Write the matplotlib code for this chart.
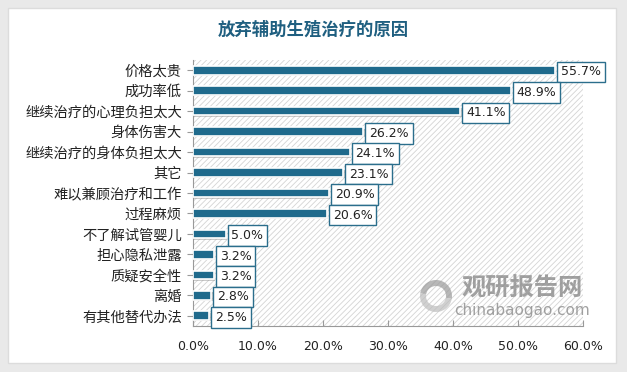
import matplotlib.pyplot as plt
from matplotlib.patches import Rectangle, Wedge
import matplotlib.patheffects as pe

plt.rcParams['font.family'] = ['Noto Sans CJK SC', 'DejaVu Sans']
plt.rcParams['hatch.linewidth'] = 0.6

# data (top to bottom as shown)
reasons = ['价格太贵', '成功率低', '继续治疗的心理负担太大', '身体伤害大',
           '继续治疗的身体负担太大', '其它', '难以兼顾治疗和工作', '过程麻烦',
           '不了解试管婴儿', '担心隐私泄露', '质疑安全性', '离婚', '有其他替代办法']
shares = [55.7, 48.9, 41.1, 26.2, 24.1, 23.1, 20.9, 20.6, 5.0, 3.2, 3.2, 2.8, 2.5]
xticks = [0, 10, 20, 30, 40, 50, 60]

bar_color = '#1f6a8c'
edge_color = '#2b6e8c'

fig = plt.figure(figsize=(6.27, 3.72), dpi=100)
fig.patch.set_facecolor('#e9e9e9')

# white card behind everything
bg = fig.add_axes([0, 0, 1, 1], zorder=-10)
bg.set_xlim(0, 627)
bg.set_ylim(372, 0)
bg.axis('off')
bg.add_patch(Rectangle((8, 8), 608, 355, facecolor='white', edgecolor='#dcdcdc', lw=1))

ax = fig.add_axes([193 / 627, 1 - 326 / 372, 390 / 627, 266 / 372])
ax.set_facecolor('none')
ax.add_patch(Rectangle((0, 0), 1, 1, transform=ax.transAxes, facecolor='white',
                       edgecolor='#d4d4d4', hatch='//////', lw=0, zorder=0))

y = list(range(len(reasons)))
ax.barh(y, shares, height=0.42, color=bar_color, edgecolor='white', lw=1.2, zorder=3,
        path_effects=[pe.withSimplePatchShadow(offset=(1, -1), shadow_rgbFace='#999999', alpha=0.5)])

for yi, v in zip(y, shares):
    ax.text(v + 0.9, yi + 0.08, f'{v:.1f}%', ha='left', va='center', fontsize=9,
            family=['DejaVu Sans'], color='#222222', zorder=5,
            bbox=dict(boxstyle='square,pad=0.3', facecolor='white', edgecolor=edge_color, lw=1))

ax.set_ylim(len(reasons) - 0.5, -0.5)
ax.set_xlim(0, 60)
ax.set_yticks(y)
ax.set_yticklabels(reasons, fontsize=10.3, color='#222222')
ax.set_xticks(xticks)
ax.set_xticklabels([f'{t:.1f}%' for t in xticks], fontsize=9, color='#222222',
                   family=['DejaVu Sans'])
ax.tick_params(axis='y', length=4, color='#999999', pad=4)
ax.tick_params(axis='x', direction='in', length=4, color='#999999', pad=10)
for s in ['top', 'right']:
    ax.spines[s].set_visible(False)
for s in ['left', 'bottom']:
    ax.spines[s].set_color('#999999')

# overlay for the watermark logo
top = fig.add_axes([0, 0, 1, 1], zorder=10)
top.set_xlim(0, 627)
top.set_ylim(372, 0)
top.axis('off')
top.patch.set_alpha(0)
top.add_patch(Wedge((436, 296), 16, 190, 10, width=6, facecolor='#9a9a9a', alpha=0.7))
top.add_patch(Wedge((436, 296), 16, 10, 190, width=6, facecolor='#bdbdbd', alpha=0.7))

fig.text(0.5, 1 - 30 / 372, '放弃辅助生殖治疗的原因', ha='center', va='center',
         fontsize=12.5, fontweight='bold', color='#1f5f80')

# watermark text
fig.text(522 / 627, 1 - 289 / 372, '观研报告网', ha='center', va='center',
         fontsize=17.5, fontweight='bold', color='#8a8a8a', alpha=0.8, zorder=11)
fig.text(522 / 627, 1 - 311 / 372, 'chinabaogao.com', ha='center', va='center',
         fontsize=11, color='#8a8a8a', alpha=0.8, family=['DejaVu Sans'], zorder=11)

fig.savefig('out.png', dpi=100)
